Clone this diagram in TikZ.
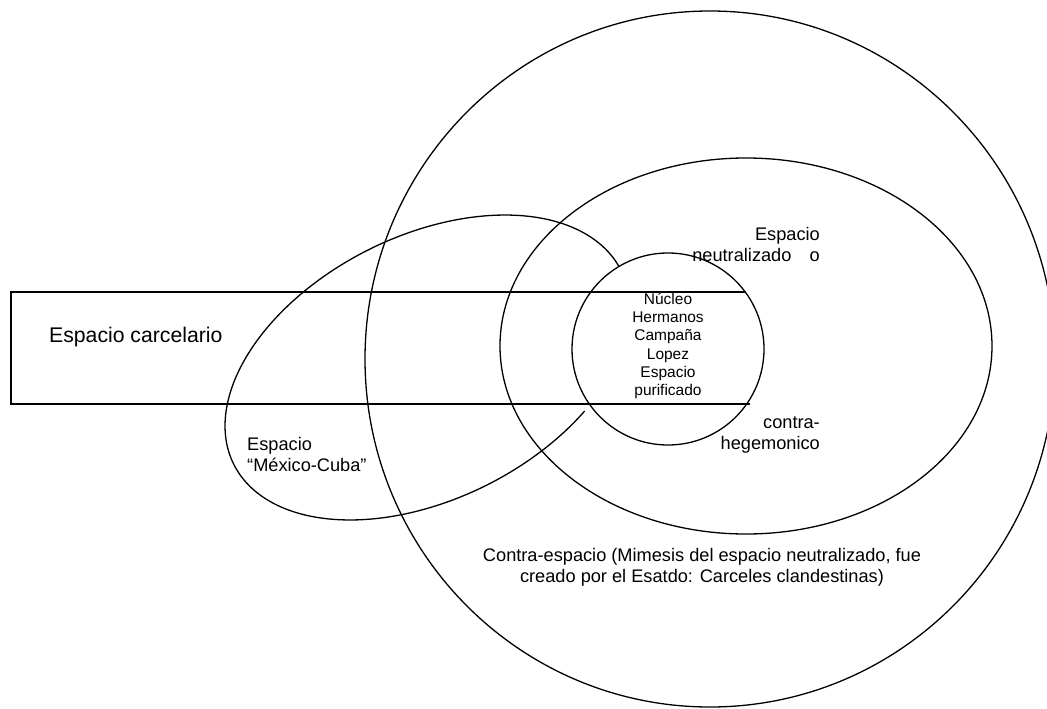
\documentclass[tikz,border=0pt]{standalone}
\usepackage{fontspec}
\setmainfont{Liberation Sans}
\begin{document}
\begin{tikzpicture}[x=1pt,y=-1pt,
  outl/.style={draw=black,line width=1.3pt},
  lbl/.style={inner sep=0pt,font=\fontsize{18.2}{21}\selectfont},
  small/.style={inner sep=0pt,align=center,font=\fontsize{15.5}{18.3}\selectfont}]
\useasboundingbox (0,0) rectangle (1047,709);
% big circle (contra-espacio)
\draw[outl] (710,359) ellipse [x radius=345, y radius=348];
% middle circle (espacio neutralizado)
\draw[outl] (746,346) ellipse [x radius=246, y radius=188];
% small circle (nucleo)
\draw[outl] (668,349) circle [radius=96];
% open rectangle (espacio carcelario)
\coordinate (rtr) at (745,292);
\coordinate (rtl) at (11,292);
\coordinate (rbl) at (11,404);
\coordinate (rbr) at (750,404);
\draw[outl] (rtr) -- (rtl) -- (rbl) -- (rbr);
% open tilted ellipse (Mexico-Cuba)
\begin{scope}[shift={(427.5,367.5)},rotate=26.55]
\draw[outl] plot[domain=56:358,samples=120,smooth,variable=\t] ({216.6*cos(\t)},{131.7*sin(\t)});
\end{scope}
% labels
\node[lbl,font=\fontsize{21.2}{25}\selectfont,anchor=west] (carc) at (49,337) {Espacio carcelario};
\node[small] (nuc) at (668,346) {Núcleo\\Hermanos\\Campaña\\Lopez\\Espacio\\purificado};
\node[lbl,align=right,anchor=east] (neut) at (820,244) {Espacio\\neutralizado\quad o};
\node[lbl,align=right,anchor=east] (hege) at (820,435) {contra-\\hegemonico};
\node[lbl,align=left,anchor=west] (mexc) at (247,454) {Espacio\\“México-Cuba”};
\node[lbl,align=center] (contra) at (702,567) {Contra-espacio (Mimesis del espacio neutralizado, fue\\creado por el Esatdo: Carceles clandestinas)};
\end{tikzpicture}
\end{document}
